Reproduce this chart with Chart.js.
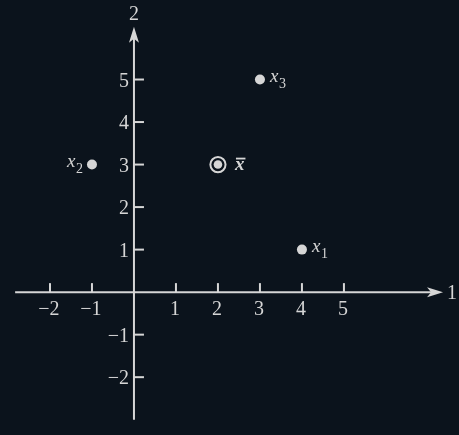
<!DOCTYPE html>
<html>
<head>
<meta charset="utf-8">
<script src="https://cdn.jsdelivr.net/npm/chart.js@4"></script>
<style>
  html, body { margin: 0; padding: 0; background: #0b131c; overflow: hidden; }
  #wrap { width: 459px; height: 435px; }
</style>
</head>
<body>
<div id="wrap"><canvas id="meanChart"></canvas></div>
<script>
// data points x1, x2, x3 and their mean
const pointNames = ['1', '2', '3'];
const pointX = [4, -1, 3];
const pointY = [1, 3, 5];
const meanX = [2];
const meanY = [3];

// tick labels on both axes
const xTicks = [-2, -1, 1, 2, 3, 4, 5];
const yTicks = [-2, -1, 1, 2, 3, 4, 5];

// axis extents (in data units) and axis names
const xAxisFrom = -2.83, xAxisTo = 7.36;
const yAxisFrom = -3.0, yAxisTo = 6.24;
const xAxisName = '1';
const yAxisName = '2';

const fg = '#d6d6d6';
const serif = '"Liberation Serif", serif';

function tickText(v) {
    return v < 0 ? '\u2212' + Math.abs(v) : String(v);
}

// draws the axes through the origin, with ticks, arrows and labels
const axesPlugin = {
    id: 'axesThroughOrigin',
    beforeDatasetsDraw(chart) {
        const ctx = chart.ctx;
        const xs = chart.scales.x, ys = chart.scales.y;
        const ox = xs.getPixelForValue(0), oy = ys.getPixelForValue(0);
        ctx.save();
        ctx.strokeStyle = fg;
        ctx.fillStyle = fg;
        ctx.lineWidth = 2;

        // x axis
        const xl = xs.getPixelForValue(xAxisFrom), xr = xs.getPixelForValue(xAxisTo);
        ctx.beginPath();
        ctx.moveTo(xl, oy);
        ctx.lineTo(xr - 10, oy);
        ctx.stroke();
        ctx.beginPath();
        ctx.moveTo(xr, oy);
        ctx.lineTo(xr - 16, oy - 5);
        ctx.lineTo(xr - 12, oy);
        ctx.lineTo(xr - 16, oy + 5);
        ctx.closePath();
        ctx.fill();

        // y axis
        const yb = ys.getPixelForValue(yAxisFrom), yt = ys.getPixelForValue(yAxisTo);
        ctx.beginPath();
        ctx.moveTo(ox, yb);
        ctx.lineTo(ox, yt + 10);
        ctx.stroke();
        ctx.beginPath();
        ctx.moveTo(ox, yt);
        ctx.lineTo(ox - 5, yt + 16);
        ctx.lineTo(ox, yt + 12);
        ctx.lineTo(ox + 5, yt + 16);
        ctx.closePath();
        ctx.fill();

        ctx.font = '20px ' + serif;

        // x ticks and labels
        ctx.textAlign = 'center';
        ctx.textBaseline = 'alphabetic';
        xTicks.forEach(v => {
            const px = xs.getPixelForValue(v);
            ctx.beginPath();
            ctx.moveTo(px, oy);
            ctx.lineTo(px, oy - 9);
            ctx.stroke();
            ctx.fillText(tickText(v), px - 1, oy + 23);
        });

        // y ticks and labels
        ctx.textAlign = 'right';
        yTicks.forEach(v => {
            const py = ys.getPixelForValue(v);
            ctx.beginPath();
            ctx.moveTo(ox, py);
            ctx.lineTo(ox + 10, py);
            ctx.stroke();
            ctx.fillText(tickText(v), ox - 5, py + 7);
        });

        // axis names
        ctx.textAlign = 'left';
        ctx.fillText(xAxisName, xr + 4, oy + 7);
        ctx.textAlign = 'center';
        ctx.fillText(yAxisName, ox, yt - 7);
        ctx.restore();
    },
    afterDatasetsDraw(chart) {
        const ctx = chart.ctx;
        const xs = chart.scales.x, ys = chart.scales.y;
        ctx.save();
        ctx.fillStyle = fg;
        ctx.strokeStyle = fg;
        ctx.textBaseline = 'alphabetic';

        // x_i labels: x2 sits left of its point, the others right
        pointNames.forEach((n, i) => {
            const px = xs.getPixelForValue(pointX[i]);
            const py = ys.getPixelForValue(pointY[i]);
            const left = pointX[i] < 0;
            const tx = left ? px - 25 : px + 10;
            ctx.font = 'italic 19px ' + serif;
            ctx.textAlign = 'left';
            ctx.fillText('x', tx, py + 2);
            ctx.font = '14px ' + serif;
            ctx.fillText(n, tx + 9, py + 8);
        });

        // mean label, bold x with a bar
        const mx = xs.getPixelForValue(meanX[0]) + 17;
        const my = ys.getPixelForValue(meanY[0]);
        ctx.font = 'italic bold 19px ' + serif;
        ctx.textAlign = 'left';
        ctx.fillText('x', mx, my + 5);
        ctx.lineWidth = 1.8;
        ctx.beginPath();
        ctx.moveTo(mx + 1, my - 6);
        ctx.lineTo(mx + 10.5, my - 6);
        ctx.stroke();
        ctx.restore();
    }
};

new Chart(document.getElementById('meanChart'), {
    type: 'scatter',
    data: {
        datasets: [
            {
                label: 'points',
                data: pointX.map((x, i) => ({ x: x, y: pointY[i] })),
                pointRadius: 5,
                backgroundColor: fg,
                borderWidth: 0
            },
            {
                label: 'mean',
                data: meanX.map((x, i) => ({ x: x, y: meanY[i] })),
                pointRadius: 4.3,
                backgroundColor: fg,
                borderWidth: 0
            },
            {
                label: 'mean ring',
                data: meanX.map((x, i) => ({ x: x, y: meanY[i] })),
                pointRadius: 7.6,
                backgroundColor: 'rgba(0,0,0,0)',
                borderColor: fg,
                borderWidth: 2
            }
        ]
    },
    options: {
        responsive: true,
        maintainAspectRatio: false,
        animation: false,
        layout: { padding: 0, autoPadding: false },
        plugins: {
            legend: { display: false },
            tooltip: { enabled: false }
        },
        scales: {
            x: { type: 'linear', display: false, min: -3.19, max: 7.74 },
            y: { type: 'linear', display: false, min: -3.36, max: 6.87 }
        }
    },
    plugins: [axesPlugin]
});
</script>
</body>
</html>
